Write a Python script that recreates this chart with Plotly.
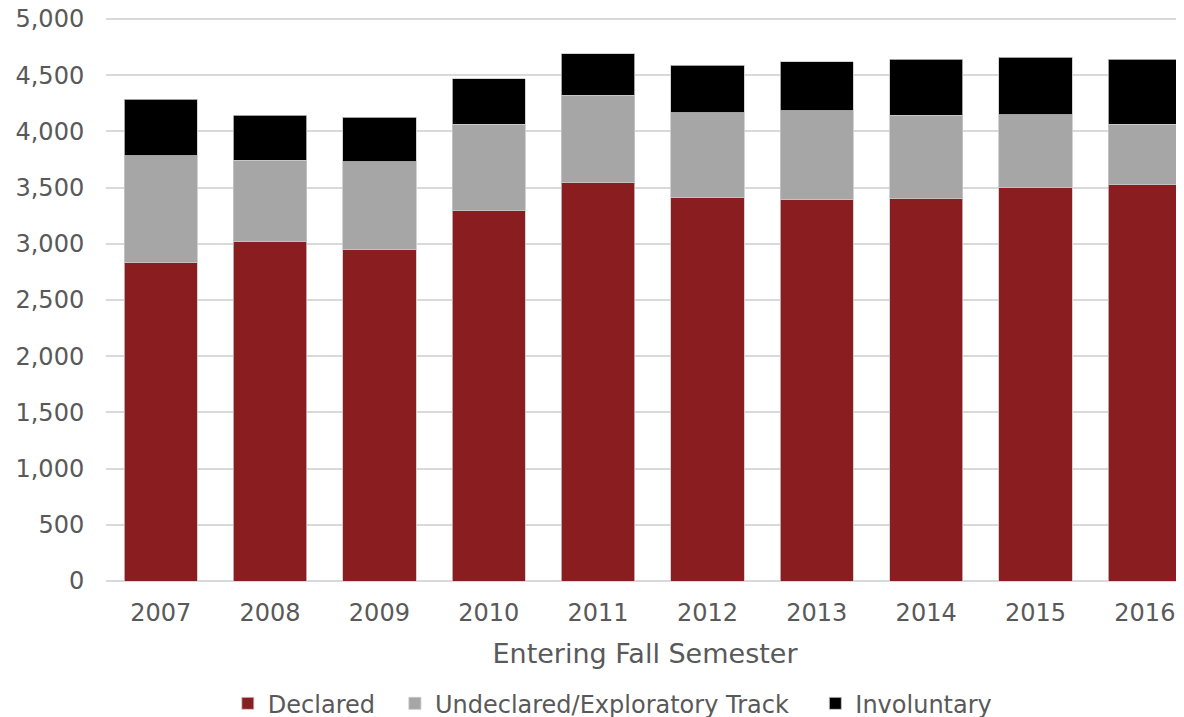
import plotly.graph_objects as go

years = ['2007', '2008', '2009', '2010', '2011', '2012', '2013', '2014', '2015', '2016']
declared = [2830, 3017, 2951, 3295, 3548, 3408, 3397, 3400, 3500, 3527]
undeclared = [955, 727, 778, 770, 775, 757, 786, 745, 648, 538]
involuntary = [502, 401, 398, 403, 368, 425, 439, 495, 513, 578]

font_family = 'DejaVu Sans'
txt_color = '#595959'
edge = dict(color='#c8c8c8', width=0.8)

fig = go.Figure()
fig.add_trace(go.Bar(x=years, y=declared, name='Declared', legend='legend',
                     marker=dict(color='#891D1F', line=edge)))
fig.add_trace(go.Bar(x=years, y=undeclared, name='Undeclared/Exploratory Track', legend='legend2',
                     marker=dict(color='#A6A6A6', line=edge)))
fig.add_trace(go.Bar(x=years, y=involuntary, name='Involuntary', legend='legend3',
                     marker=dict(color='#000000', line=edge)))

leg = dict(orientation='h', xanchor='left', y=-0.218, yanchor='middle',
           font=dict(size=24, color=txt_color), bgcolor='rgba(0,0,0,0)')

# page body has an 8px margin, so the figure is shifted 8px right and down
fig.update_layout(
    barmode='stack',
    bargap=0.33,
    width=1176, height=709,
    showlegend=True,
    margin=dict(l=98, r=0, t=10, b=136, autoexpand=False),
    plot_bgcolor='white',
    paper_bgcolor='white',
    font=dict(family=font_family, size=24, color=txt_color),
    legend=dict(leg, x=0.113),
    legend2=dict(leg, x=0.268),
    legend3=dict(leg, x=0.658),
)
fig.update_xaxes(range=[-0.5, 9.358], showgrid=False, automargin=False,
                 ticks='outside', ticklen=10, tickcolor='rgba(0,0,0,0)',
                 tickfont=dict(size=24, color=txt_color),
                 title=dict(text='Entering Fall Semester', font=dict(size=27, color=txt_color), standoff=18))
# top of range a touch above 5000 so the 5000 gridline is drawn
fig.update_yaxes(range=[0, 5009], dtick=500, tickformat=',', showgrid=True, automargin=False,
                 ticklabeloverflow='allow',
                 gridcolor='#D9D9D9', gridwidth=1.5, zeroline=True, zerolinecolor='#D9D9D9',
                 zerolinewidth=1.5, ticks='outside', ticklen=16, tickcolor='rgba(0,0,0,0)',
                 tickfont=dict(size=24, color=txt_color))

fig.write_html('out.html')
